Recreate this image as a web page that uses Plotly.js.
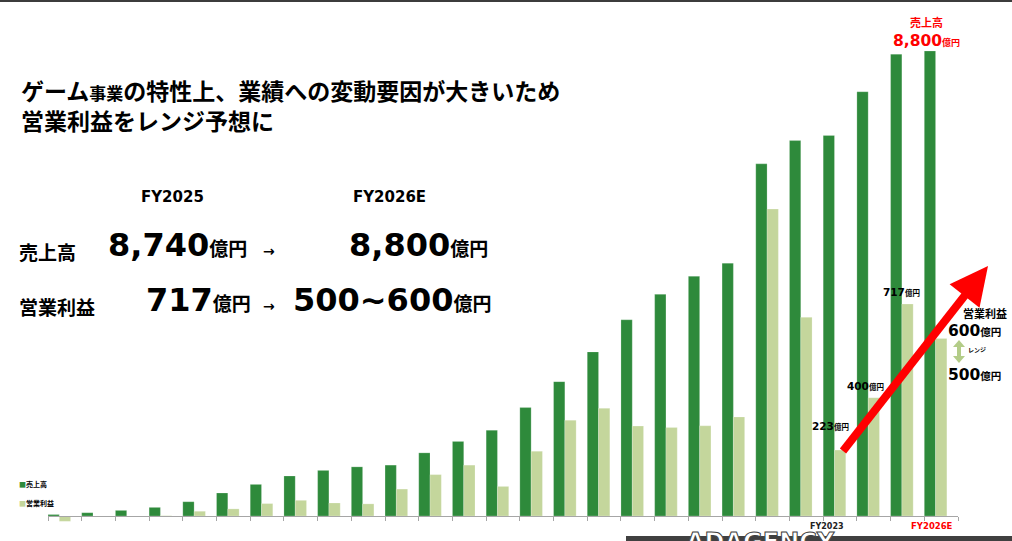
<!DOCTYPE html>
<html><head><meta charset="utf-8">
<script src="https://cdn.plot.ly/plotly-3.0.1.min.js"></script>
<style>
html,body{margin:0;padding:0;background:#fff;}
#wrap{position:relative;width:1012px;height:541px;overflow:hidden;}
#chart{position:absolute;left:0;top:0;width:1012px;height:541px;}
#topline{position:absolute;left:0;top:0;width:1012px;height:2px;background:#3c3c3c;}
#logo{position:absolute;left:626px;top:530px;width:386px;height:11px;overflow:hidden;}
#logobar{position:absolute;left:0;top:6px;width:386px;height:5px;background:#404040;}
#logotext{position:absolute;left:60px;top:0px;font:bold 24px "DejaVu Sans",sans-serif;color:#fff;-webkit-text-stroke:1px #404040;letter-spacing:0px;line-height:24px;}
</style></head>
<body><div id="wrap"><div id="chart"></div><div id="topline"></div>
<div id="logo"><div id="logobar"></div><div id="logotext">ADAGENCY</div></div></div>
<script>
// ---- data (億円) ----
const fiscalYears = ["FY2000","FY2001","FY2002","FY2003","FY2004","FY2005","FY2006","FY2007","FY2008","FY2009","FY2010","FY2011","FY2012","FY2013","FY2014","FY2015","FY2016","FY2017","FY2018","FY2019","FY2020","FY2021","FY2022","FY2023","FY2024","FY2025","FY2026E"];
const revenue = [28, 62, 106, 163, 270, 435, 598, 757, 863, 930, 963, 1195, 1411, 1624, 2052, 2543, 3106, 3713, 4195, 4536, 4785, 6664, 7105, 7202, 8029, 8740, 8800];
const operatingProfit = [-18, -1, -3, 1, 16, 24, 42, 53, 44, 41, 91, 140, 172, 100, 219, 324, 364, 304, 299, 305, 335, 1038, 672, 223, 400, 717, 600];
const opRangeLow = 500, opRangeHigh = 600;
const labelFY2023 = "FY2023", labelFY2026 = "FY2026E";

// ---- layout geometry ----
const L = 48, R = 54, B = 11, Wd = 1012, Ht = 541;
const PW = Wd - L - R, PH = Ht - B;
const base = 516;                     // pixel row of zero
const pxPerRev = 465 / 8800, pxPerOp = 212 / 717;
const PX = x => (x - L) / PW;
const PY = y => (PH - y) / PH;
const idx = fiscalYears.map((_, i) => i);

const DARK = '#2e8a3b', LIGHT = '#c4d69c', RED = '#ff0000', RANGEC = '#b3cc88';
const NUMF = '"DejaVu Sans","Noto Sans CJK JP",sans-serif';
const JPF = '"Noto Sans CJK JP","Noto Sans",sans-serif';

const traces = [
  {type:'bar', x: idx, y: revenue, offset: 0, width: 0.335, marker:{color: DARK, line:{color:'rgba(255,255,255,0.35)', width:0.6}}, yaxis:'y', hoverinfo:'skip', name:'売上高'},
  {type:'bar', x: idx, y: operatingProfit, offset: 0.335, width: 0.335, marker:{color: LIGHT, line:{color:'rgba(255,255,255,0.35)', width:0.6}}, yaxis:'y2', hoverinfo:'skip', name:'営業利益'}
];

function A(text, x, y, size, opt) {
  opt = opt || {};
  return Object.assign({xref:'paper', yref:'paper', x: PX(x), y: PY(y), text: text, showarrow:false,
    xanchor: opt.xa || 'center', yanchor: opt.ya || 'middle', align: opt.align || 'center',
    font:{family: opt.family || JPF, size: size, color: opt.color || '#000'}}, opt.extra || {});
}
const num = (n, ns, u, us) => '<b><span style="font-family:DejaVu Sans;font-size:'+ns+'px">'+n+'</span><span style="font-size:'+us+'px">'+u+'</span></b>';
const heavy = t => '<b>' + t + '</b>';

const fmt = v => v.toLocaleString('en-US');
const ann = [
  A(heavy('ゲーム<span style="font-size:17px">事業</span>の特性上、業績への変動要因が大きいため') + '<br>' + heavy('営業利益をレンジ予想に'), 19, 105, 23, {xa:'left', align:'left'}),
  A('<b>FY2025</b>', 172, 197, 15, {family: NUMF}),
  A('<b>FY2026E</b>', 389, 197, 15, {family: NUMF}),
  A(heavy('売上高'), 17, 251, 19, {xa:'left'}),
  A(heavy('営業利益'), 17, 306, 19, {xa:'left'}),
  A(num(fmt(revenue[25]), 32, '億円', 19), 106, 245, 19, {xa:'left', family: NUMF}),
  A(num(fmt(revenue[26]), 32, '億円', 19), 347, 245, 19, {xa:'left', family: NUMF}),
  A(num(operatingProfit[25], 32, '億円', 19), 144, 300, 19, {xa:'left', family: NUMF}),
  A(num(opRangeLow + '~' + opRangeHigh, 32, '億円', 19), 291, 300, 19, {xa:'left', family: NUMF}),
  A('<b>→</b>', 269, 251, 14, {family: NUMF}),
  A('<b>→</b>', 269, 306, 14, {family: NUMF}),
  // right side labels
  A('<b>売上高</b>', 926, 22, 11, {color: RED}),
  A(num(fmt(revenue[26]), 15.5, '億円', 9), 926, 41, 10, {color: RED, family: NUMF}),
  A(num(operatingProfit[25], 10.5, '億円', 7.5), 901, 292, 10, {family: NUMF}),
  A(num(operatingProfit[24], 10.5, '億円', 7.5), 865, 386, 10, {family: NUMF}),
  A(num(operatingProfit[23], 10.5, '億円', 7.5), 830, 426, 10, {family: NUMF}),
  A('<b>営業利益</b>', 985, 313, 11),
  A(num(opRangeHigh, 15.5, '億円', 10.5), 975, 331, 11, {family: NUMF}),
  A(num(opRangeLow, 15.5, '億円', 10.5), 975, 375, 11, {family: NUMF}),
  A('<b>レンジ</b>', 966, 349, 6, {xa:'left'}),
  // legend
  A('<span style="color:'+DARK+'">■</span><b>売上高</b>', 17, 484, 7, {xa:'left'}),
  A('<span style="color:'+LIGHT+'">■</span><b>営業利益</b>', 17, 503, 7, {xa:'left'}),
  // axis labels
  A('<b>'+labelFY2023+'</b>', 827, 526, 8, {family: NUMF, color:'#222'}),
  A('<b>'+labelFY2026+'</b>', 932, 526, 8.5, {family: NUMF, color: RED})
];

const P = p => PX(p[0]).toFixed(5) + ',' + PY(p[1]).toFixed(5);
// red arrow
const tail = [843, 451], tip = [988, 266];
const dx = tip[0]-tail[0], dy = tip[1]-tail[1], len = Math.hypot(dx, dy);
const ux = dx/len, uy = dy/len, nx = -uy, ny = ux;
const HL = 38, HW = 19;
const bc = [tip[0]-HL*ux, tip[1]-HL*uy];
const c1 = [bc[0]+HW*nx, bc[1]+HW*ny], c2 = [bc[0]-HW*nx, bc[1]-HW*ny];
// range double arrow
const rx = 959, rTop = 340, rBot = 363, rHead = 7, rHalf = 6;
const shapes = [
  {type:'line', xref:'paper', yref:'paper', x0: PX(tail[0]), y0: PY(tail[1]), x1: PX(bc[0]+2*ux), y1: PY(bc[1]+2*uy), line:{color: RED, width: 8}},
  {type:'path', xref:'paper', yref:'paper', path: 'M' + P(tip) + ' L' + P(c1) + ' L' + P(c2) + ' Z', fillcolor: RED, line:{width:0}},
  {type:'line', xref:'paper', yref:'paper', x0: PX(rx), y0: PY(rTop+rHead-1), x1: PX(rx), y1: PY(rBot-rHead+1), line:{color: RANGEC, width: 4}},
  {type:'path', xref:'paper', yref:'paper', path: 'M' + P([rx, rTop]) + ' L' + P([rx+rHalf, rTop+rHead]) + ' L' + P([rx-rHalf, rTop+rHead]) + ' Z', fillcolor: RANGEC, line:{width:0}},
  {type:'path', xref:'paper', yref:'paper', path: 'M' + P([rx, rBot]) + ' L' + P([rx+rHalf, rBot-rHead]) + ' L' + P([rx-rHalf, rBot-rHead]) + ' Z', fillcolor: RANGEC, line:{width:0}}
];

const layout = {
  width: Wd, height: Ht, margin:{l:L, r:R, t:0, b:B, pad:0},
  paper_bgcolor:'rgba(0,0,0,0)', plot_bgcolor:'rgba(0,0,0,0)', showlegend:false,
  xaxis:{range:[0, fiscalYears.length], anchor:'free', position: (PH-base)/PH, showline:true, linecolor:'#a6a6a6', linewidth:1,
    ticks:'outside', ticklen:4, tickcolor:'#a6a6a6', tickvals: idx.concat([fiscalYears.length]), showticklabels:false, showgrid:false, zeroline:false, fixedrange:true},
  yaxis:{range:[-(PH-base)/pxPerRev, base/pxPerRev], visible:false, fixedrange:true},
  yaxis2:{range:[-(PH-base)/pxPerOp, base/pxPerOp], overlaying:'y', visible:false, fixedrange:true},
  annotations: ann, shapes: shapes, bargap:0
};
Plotly.newPlot('chart', traces, layout, {displayModeBar:false, staticPlot:true});
</script></body></html>
